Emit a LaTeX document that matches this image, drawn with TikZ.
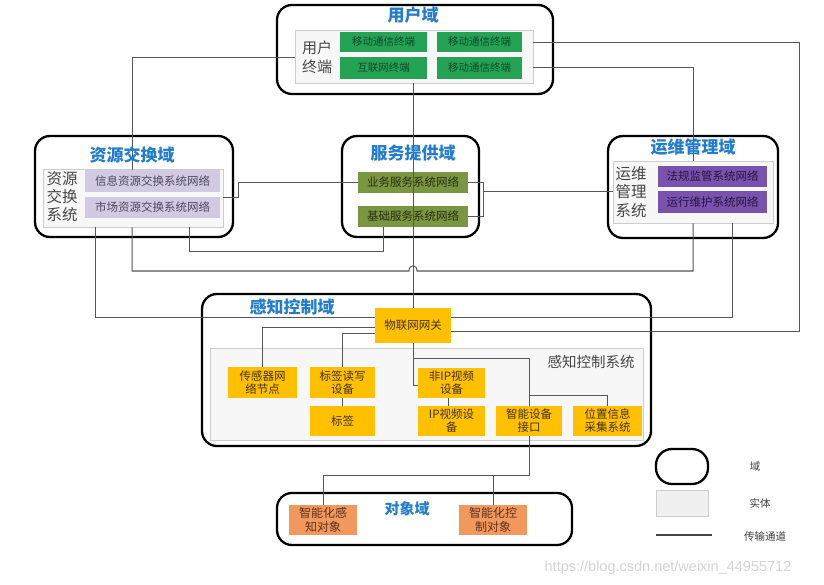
\documentclass[tikz,border=0pt]{standalone}
\usepackage{fontspec}
\newfontfamily\cjk{Noto Sans CJK SC}
\newfontfamily\wmfont{Liberation Sans}
\definecolor{cgreen}{RGB}{36,163,84}
\definecolor{cgreentxt}{RGB}{18,72,40}
\definecolor{clav}{RGB}{210,202,226}
\definecolor{clavtxt}{RGB}{80,72,92}
\definecolor{colive}{RGB}{122,150,64}
\definecolor{colivetxt}{RGB}{38,48,18}
\definecolor{cpurp}{RGB}{120,82,172}
\definecolor{cpurptxt}{RGB}{40,22,64}
\definecolor{cyel}{RGB}{255,192,0}
\definecolor{cyeltxt}{RGB}{70,50,0}
\definecolor{corange}{RGB}{241,153,92}
\definecolor{corangetxt}{RGB}{95,50,30}
\definecolor{centfill}{RGB}{247,247,247}
\definecolor{centdraw}{RGB}{205,205,205}
\definecolor{clegfill}{RGB}{240,240,240}
\definecolor{ctitle}{RGB}{35,125,205}
\definecolor{cline}{RGB}{85,85,85}
\definecolor{clegline}{RGB}{70,70,70}
\definecolor{clabel}{RGB}{70,70,70}
\definecolor{clegtxt}{RGB}{60,60,60}
\definecolor{cwm}{RGB}{212,212,212}
\begin{document}
\begin{tikzpicture}[x=1pt,y=-1pt,font=\cjk,
  sz/.style 2 args={minimum width=#1pt,minimum height=#2pt},
  dom/.style={draw=black,line width=2.3pt,rounded corners=15pt,inner sep=0pt},
  ent/.style={draw=centdraw,fill=centfill,line width=0.8pt,inner sep=0pt},
  gbox/.style={fill=cgreen,text=cgreentxt,inner sep=0pt,font=\cjk\fontsize{10.5}{12}\selectfont},
  lbox/.style={fill=clav,text=clavtxt,inner sep=0pt,font=\cjk\fontsize{11.5}{13}\selectfont},
  obox/.style={fill=colive,text=colivetxt,inner sep=0pt,font=\cjk\fontsize{11.5}{13}\selectfont},
  pbox/.style={fill=cpurp,text=cpurptxt,inner sep=0pt,font=\cjk\fontsize{11.5}{13}\selectfont},
  ybox/.style={fill=cyel,text=cyeltxt,inner sep=0pt,align=center,font=\cjk\fontsize{11.5}{13}\selectfont},
  rbox/.style={fill=corange,text=corangetxt,inner sep=0pt,align=center,font=\cjk\fontsize{12}{14}\selectfont},
  dtitle/.style={text=ctitle,font=\cjk\bfseries\fontsize{17}{19}\selectfont,inner sep=0pt},
  lab/.style={text=clabel,align=center,inner sep=0pt},
  link/.style={draw=cline,line width=1pt},
  leg/.style={text=clegtxt,font=\cjk\fontsize{10.5}{12}\selectfont,inner sep=0pt}]
\useasboundingbox (0,0) rectangle (824,585);
\fill[white] (0,0) rectangle (824,585);

% ---------- domains ----------
\node[dom,sz={276}{89}] (dUser) at (415,49.5) {};
\node[dom,sz={198}{101}] (dRes) at (134,186.5) {};
\node[dom,sz={137}{101}] (dSvc) at (410.5,186.5) {};
\node[dom,sz={170}{102}] (dOps) at (693,187) {};
\node[dom,sz={449}{152}] (dSense) at (426.5,370) {};
\node[dom,sz={295}{52}] (dObj) at (424.5,519) {};

% ---------- entity boxes ----------
\node[ent,sz={238}{53}] (eUser) at (414,56.5) {};
\node[ent,sz={180}{58}] (eRes) at (133,198) {};
\node[ent,sz={160}{62}] (eOps) at (693,192) {};
\node[ent,sz={433}{92}] (eSense) at (426.5,394) {};

% ---------- user domain ----------
\node[lab,font=\cjk\fontsize{15}{19}\selectfont] (lUser) at (317,57) {用户\\终端};
\node[gbox,sz={87}{20}] (g1) at (383.5,42) {移动通信终端};
\node[gbox,sz={85}{20}] (g2) at (479.5,42) {移动通信终端};
\node[gbox,sz={87}{22}] (g3) at (383.5,68) {互联网终端};
\node[gbox,sz={85}{22}] (g4) at (479.5,68) {移动通信终端};

% ---------- resource exchange ----------
\node[lab,font=\cjk\fontsize{15.5}{18}\selectfont] (lRes) at (62,197) {资源\\交换\\系统};
\node[lbox,sz={135}{22}] (lav1) at (152.5,181) {信息资源交换系统网络};
\node[lbox,sz={135}{21}] (lav2) at (152.5,207.5) {市场资源交换系统网络};

% ---------- service ----------
\node[obox,sz={110}{21}] (svc1) at (413,182.5) {业务服务系统网络};
\node[obox,sz={110}{21}] (svc2) at (413,216.5) {基础服务系统网络};

% ---------- operations ----------
\node[lab,font=\cjk\fontsize{15.5}{18.5}\selectfont] (lOps) at (631,192) {运维\\管理\\系统};
\node[pbox,sz={109}{21}] (op1) at (712.5,176.5) {法规监管系统网络};
\node[pbox,sz={109}{22}] (op2) at (712.5,202) {运行维护系统网络};

% ---------- sensing & control ----------
\node[lab,font=\cjk\fontsize{14.5}{16}\selectfont] (lSense) at (591,362) {感知控制系统};
\node[ybox,sz={76}{35}] (gw) at (413,325.5) {物联网网关};
\node[ybox,sz={69}{31}] (sn) at (262.5,382.5) {传感器网\\络节点};
\node[ybox,sz={65}{31}] (rw) at (342.5,382.5) {标签读写\\设备};
\node[ybox,sz={65}{30}] (tag) at (342.5,421) {标签};
\node[ybox,sz={67}{30}] (nip) at (451.5,383) {非IP视频\\设备};
\node[ybox,sz={67}{30}] (ip) at (451.5,421) {IP视频设\\备};
\node[ybox,sz={66}{30}] (sd) at (529,421) {智能设备\\接口};
\node[ybox,sz={69}{30}] (loc) at (607.5,421) {位置信息\\采集系统};

% ---------- objects ----------
\node[rbox,sz={68}{30}] (o1) at (323,520) {智能化感\\知对象};
\node[rbox,sz={68}{30}] (o2) at (493,520) {智能化控\\制对象};

% ---------- connectors between domains ----------
\draw[link] (eUser.west |- 0,58) -| (lav1.north -| 132,0);
\draw[link] (gw.north |- eUser.south) -- (gw.north);
\draw[link] (eUser.east |- 0,43) -| (799,331) -- (gw.east |- 0,331);
\draw[link] (eUser.east |- 0,68) -| (eOps.north -| 693,0);
\draw[link] (eRes.south -| 95,0) |- (gw.west |- 0,317);
\draw[link] (eRes.south -| 189,0) |- (383,252) -- (svc2.south -| 383,0);
\draw[link] (eRes.east |- 0,198) -- (238,198) |- (svc1.west);
\draw[link] (svc1.east) -- (483,182.5) |- (svc2.east);
\draw[link] (483,192) -- (eOps.west |- 0,192);
\draw[link] (eRes.south -| 132,0) |- (409,271) .. controls (409,264) and (417,264) .. (417,271) -| (eOps.south -| 693,0);
\draw[link] (eOps.south -| 732,0) |- (gw.east |- 0,317);

% ---------- connectors inside sensing ----------
\draw[link] (gw.west |- 0,327) -| (sn.north);
\draw[link] (gw.west |- 0,333) -| (rw.north);
\draw[link] (rw.south) -- (tag.north);
\draw[link] (gw.south) -- (413,385) -- (nip.west |- 0,385);
\draw[link] (413,358) -| (sd.north);
\draw[link] (529,395) -| (loc.north);
\draw[link] (nip.south -| 448,0) -- (ip.north -| 448,0);
\draw[link] (sd.south) -- (529,475) -| (o1.north);
\draw[link] (493,475) -- (o2.north);

% ---------- titles ----------
\node[dtitle] (tUser) at (413,15) {用户域};
\node[dtitle] (tRes) at (132,155) {资源交换域};
\node[dtitle] (tSvc) at (413,153) {服务提供域};
\node[dtitle] (tOps) at (693,147) {运维管理域};
\node[dtitle] (tSense) at (292,307) {感知控制域};
\node[dtitle,font=\cjk\bfseries\fontsize{15}{17}\selectfont] (tObj) at (407,509) {对象域};

% ---------- legend ----------
\node[dom,sz={52}{35},rounded corners=16pt] (legDom) at (682,466.5) {};
\node[leg] (legDomT) at (755,467) {域};
\node[ent,sz={52}{26},fill=clegfill] (legEnt) at (682,503) {};
\node[leg] (legEntT) at (760,503) {实体};
\coordinate (legA) at (656,535);
\coordinate (legB) at (712,535);
\draw[draw=clegline,line width=1.8pt] (legA) -- (legB);
\node[leg] (legLinkT) at (765,536) {传输通道};

% ---------- watermark ----------
\node[text=cwm,font=\wmfont\fontsize{14.5}{16}\selectfont,inner sep=0pt] (wm) at (668,568) {https://blog.csdn.net/weixin\_44955712};
\end{tikzpicture}
\end{document}
